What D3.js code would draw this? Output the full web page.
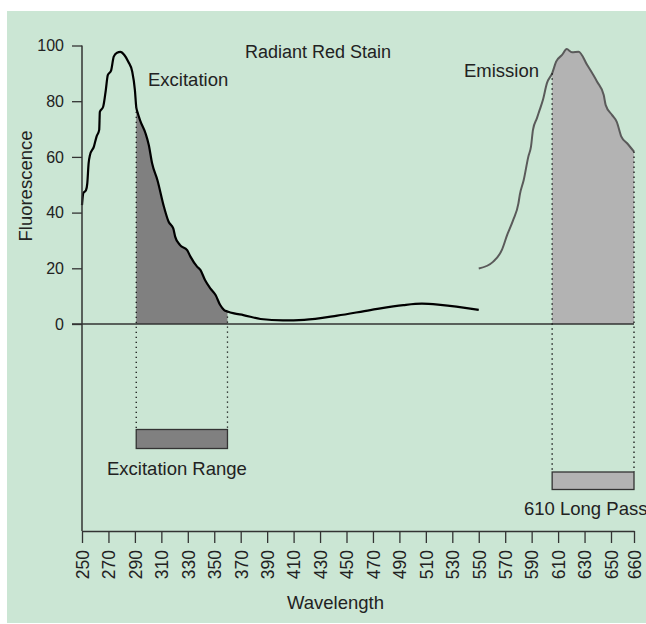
<!DOCTYPE html>
<html>
<head>
<meta charset="utf-8">
<script src="https://cdn.jsdelivr.net/npm/d3@7"></script>
<style>
  body { margin: 0; background: #fff; }
  svg { display: block; font-family: "Liberation Sans", Arial, sans-serif; }
</style>
</head>
<body>
<svg id="chart"></svg>
<script>
// Excitation spectrum (black curve)
const excitationWl = [250, 251, 253, 254, 255, 256, 259, 261, 263, 263.5, 266, 268, 269.5, 272, 274, 276.5, 279, 282, 285, 288, 290, 291, 292, 294, 298, 300.5, 303, 307, 312, 315.5, 319, 320.5, 324, 329.5, 332, 337, 339.5, 343, 347, 351, 354.5, 357.5, 360, 365, 372, 385, 402, 418, 443, 468, 493, 507, 521, 550];
const excitationVal = [42.7, 47, 48, 50.5, 57.7, 60.6, 63.7, 67.3, 69.7, 76.2, 78, 84, 89.4, 91, 96, 97.4, 97.7, 96.6, 94.2, 90.6, 84, 78, 76, 73, 68.5, 64.3, 57.7, 51.7, 42, 36.7, 34.3, 31.3, 28.4, 26.5, 24.2, 20.6, 19.4, 15.8, 12.8, 10.4, 6.8, 5, 4.5, 3.8, 3.2, 1.8, 1.3, 1.5, 3, 5, 6.8, 7.3, 6.9, 5.1];

// Emission spectrum (grey curve)
const emissionWl = [550, 561, 567.5, 571.5, 576, 580, 581, 584, 587.5, 589.5, 591, 594, 596, 598.5, 601.5, 605.5, 608.5, 613, 616.5, 620.5, 625.5, 632, 639.5, 644.5, 646, 650.5, 652.5, 654.5, 657, 660];
const emissionVal = [19.9, 22.4, 26.6, 32, 37.3, 43.3, 46.3, 51.7, 60.1, 63.7, 69.7, 73.9, 76.8, 80.4, 86.4, 90, 94.2, 96.6, 98.7, 97.6, 97.8, 93, 87, 82.2, 78.6, 75, 72.6, 67.3, 64.9, 61.9];

// Filter ranges
const excitationRange = [291, 360];
const emissionRange = [605.5, 660];

// Tick labels
const xTicks = [250, 270, 290, 310, 330, 350, 370, 390, 410, 430, 450, 470, 490, 510, 530, 550, 570, 590, 610, 630, 650, 660];
const yTicks = [0, 20, 40, 60, 80, 100];

const width = 646, height = 624;
const textColor = "#222";

const svg = d3.select("#chart")
  .attr("width", width)
  .attr("height", height);

// Green panel
svg.append("rect")
  .attr("x", 7).attr("y", 11)
  .attr("width", width - 7).attr("height", 612)
  .attr("fill", "#cbe6d4");

// Scales (the last tick, 660, sits a bit closer in the original axis)
const x = d3.scaleLinear()
  .domain([250, 650, 660])
  .range([82, 611, 634]);
const y = d3.scaleLinear()
  .domain([0, 100])
  .range([324, 45.5]);
const axisBottomY = 531;

const excitation = excitationWl.map((w, i) => ({ w: w, v: excitationVal[i] }));
const emission = emissionWl.map((w, i) => ({ w: w, v: emissionVal[i] }));

// Shaded areas
const area = d3.area()
  .x(d => x(d.w))
  .y0(y(0))
  .y1(d => y(d.v));

svg.append("path")
  .datum(excitation.filter(d => d.w >= excitationRange[0] && d.w <= excitationRange[1]))
  .attr("d", area)
  .attr("fill", "#808080");

svg.append("path")
  .datum(emission.filter(d => d.w >= emissionRange[0] && d.w <= emissionRange[1]))
  .attr("d", area)
  .attr("fill", "#b3b3b3");

// Zero line
svg.append("line")
  .attr("x1", 72).attr("x2", x(660))
  .attr("y1", y(0)).attr("y2", y(0))
  .attr("stroke", "#333")
  .attr("stroke-width", 1.5);

// Curves
const line = d3.line()
  .x(d => x(d.w))
  .y(d => y(d.v))
  .curve(d3.curveMonotoneX);

svg.append("path")
  .datum(excitation)
  .attr("d", line)
  .attr("fill", "none")
  .attr("stroke", "#000")
  .attr("stroke-width", 2.2);

svg.append("path")
  .datum(emission)
  .attr("d", line)
  .attr("fill", "none")
  .attr("stroke", "#5a5a5a")
  .attr("stroke-width", 2);

// Filter boxes below the plot
const boxes = [
  { range: excitationRange, data: excitation, top: 429.5, h: 19, fill: "#808080", label: "Excitation Range", lx: 107, ly: 475 },
  { range: emissionRange, data: emission, top: 472, h: 17.5, fill: "#b3b3b3", label: "610 Long Pass", lx: 524, ly: 515 }
];

boxes.forEach(b => {
  // dotted guides from the curve down to the box
  b.range.forEach(w => {
    const pt = b.data.find(d => d.w === w);
    svg.append("line")
      .attr("x1", x(w)).attr("x2", x(w))
      .attr("y1", y(pt.v)).attr("y2", b.top)
      .attr("stroke", "#111")
      .attr("stroke-width", 1.3)
      .attr("stroke-dasharray", "1.3,3.7");
  });
  svg.append("rect")
    .attr("x", x(b.range[0]))
    .attr("y", b.top)
    .attr("width", x(b.range[1]) - x(b.range[0]))
    .attr("height", b.h)
    .attr("fill", b.fill)
    .attr("stroke", "#333")
    .attr("stroke-width", 1.3);
  svg.append("text")
    .attr("x", b.lx).attr("y", b.ly)
    .attr("fill", textColor)
    .style("font-size", "18.5px")
    .text(b.label);
});

// Y axis
const yAxis = svg.append("g")
  .attr("transform", "translate(82,0)")
  .call(d3.axisLeft(y).tickValues(yTicks).tickSize(10).tickSizeOuter(0).tickPadding(8));
yAxis.select(".domain").remove();
yAxis.selectAll("line").attr("stroke", "#333").attr("stroke-width", 1.3);
yAxis.selectAll("text")
  .attr("fill", textColor)
  .style("font-size", "16px")
  .style("font-family", "'Liberation Sans', Arial, sans-serif");

svg.append("line")
  .attr("x1", 82).attr("x2", 82)
  .attr("y1", y(100)).attr("y2", axisBottomY)
  .attr("stroke", "#333")
  .attr("stroke-width", 1.5);

// X axis
const xAxis = svg.append("g")
  .attr("transform", `translate(0,${axisBottomY})`)
  .call(d3.axisBottom(x).tickValues(xTicks).tickSize(12).tickSizeOuter(0));
xAxis.select(".domain").attr("stroke", "#333").attr("stroke-width", 1.5);
xAxis.selectAll("line").attr("stroke", "#333").attr("stroke-width", 1.3);
xAxis.selectAll("text")
  .attr("transform", "rotate(-90)")
  .attr("x", -19)
  .attr("y", 0)
  .attr("dy", ".36em")
  .attr("fill", textColor)
  .style("text-anchor", "end")
  .style("font-size", "17.5px")
  .style("font-family", "'Liberation Sans', Arial, sans-serif");

// Titles and labels
svg.append("text")
  .attr("x", 245).attr("y", 58)
  .attr("fill", textColor)
  .style("font-size", "18px")
  .text("Radiant Red Stain");

svg.append("text")
  .attr("x", 148).attr("y", 86)
  .attr("fill", textColor)
  .style("font-size", "18.5px")
  .text("Excitation");

svg.append("text")
  .attr("x", 464).attr("y", 77)
  .attr("fill", textColor)
  .style("font-size", "18.5px")
  .text("Emission");

svg.append("text")
  .attr("x", 287).attr("y", 609)
  .attr("fill", textColor)
  .style("font-size", "18.5px")
  .text("Wavelength");

svg.append("text")
  .attr("transform", "translate(32,186) rotate(-90)")
  .attr("fill", textColor)
  .style("text-anchor", "middle")
  .style("font-size", "18.5px")
  .text("Fluorescence");
</script>
</body>
</html>
